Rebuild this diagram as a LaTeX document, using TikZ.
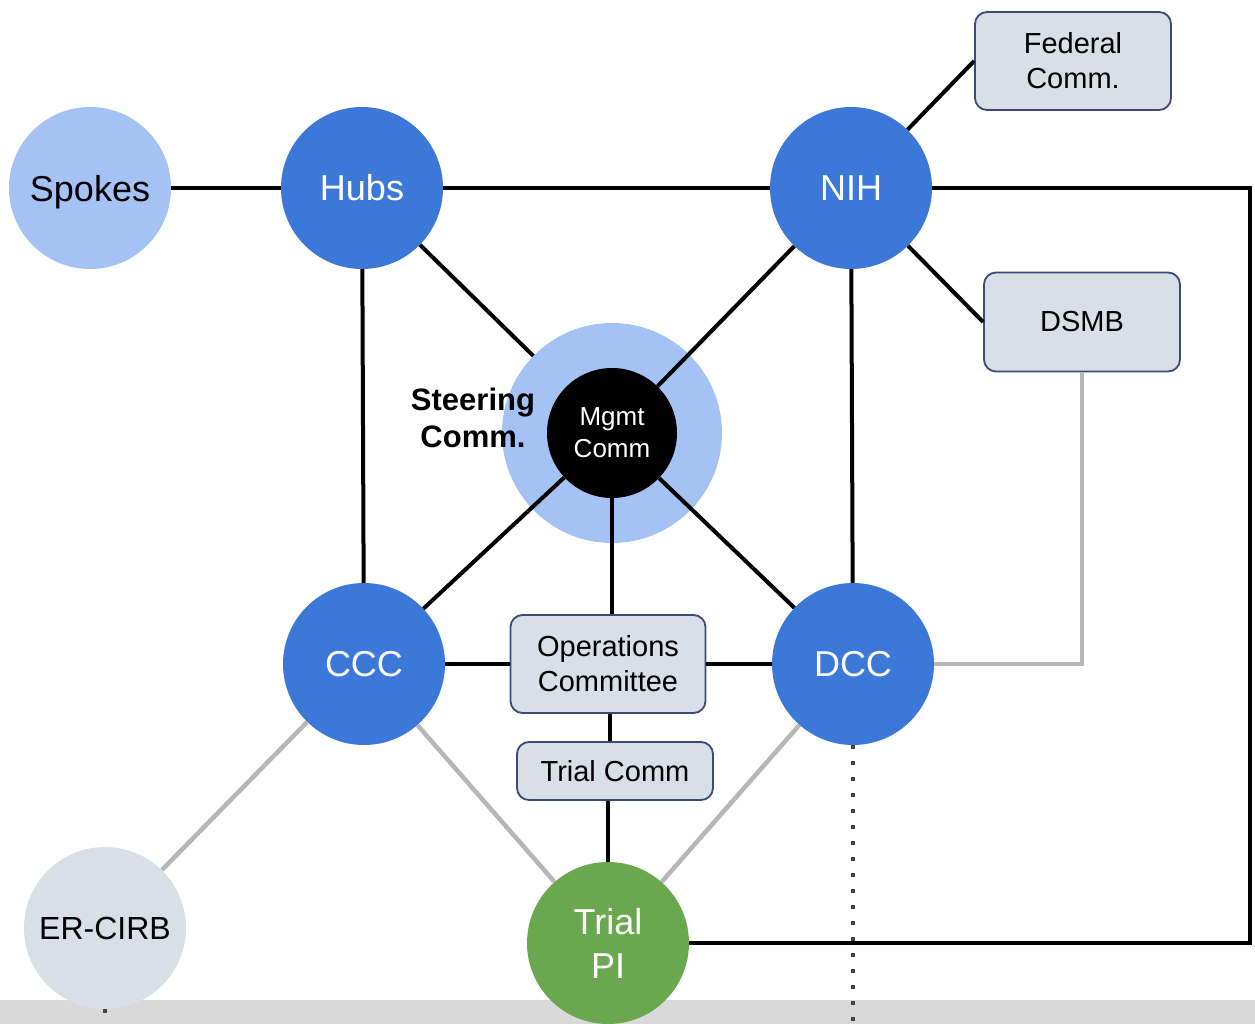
\documentclass[tikz,border=0pt]{standalone}
\usepackage{fontspec}
\setmainfont{Liberation Sans}
\usepackage{tikz}
\usetikzlibrary{positioning}

\definecolor{paleblue}{HTML}{A4C2F4}
\definecolor{midblue}{HTML}{3C78D8}
\definecolor{trialgreen}{HTML}{6AA84F}
\definecolor{boxfill}{HTML}{D9DFE6}
\definecolor{boxline}{HTML}{3D4A79}
\definecolor{softgray}{HTML}{B7B7B7}
\definecolor{bandgray}{HTML}{D9D9D9}
\definecolor{dotgray}{HTML}{434343}

\tikzset{
	party/.style={circle, minimum size=162pt, inner sep=0pt, align=center, text=white, font=\fontsize{36}{44}\selectfont},
	commbox/.style={draw=boxline, line width=1.8pt, fill=boxfill, rounded corners=12pt, align=center, font=\fontsize{29}{35}\selectfont},
	tie/.style={line width=4pt},
	softtie/.style={line width=4.5pt, color=softgray},
	dotline/.style={line width=3.5pt, color=dotgray, dash pattern=on 4pt off 12pt}
}

\begin{document}
\begin{tikzpicture}[x=1pt,y=-1pt]
		\useasboundingbox (0,0) rectangle (1255,1024);
		\fill[bandgray] (0,1000) rectangle (1255,1024);
		
		\node[party, fill=paleblue, text=black, text depth=0pt] (spokes) at (90,188) {Spokes};
		\node[party, fill=midblue] (hubs) at (362,188) {Hubs};
		\node[party, fill=midblue] (nih) at (851,188) {NIH};
		
		\node[circle, minimum size=220pt, inner sep=0pt, fill=paleblue] (steer) at (612,433) {};
		\node[circle, minimum size=130pt, inner sep=0pt, fill=black, text=white, align=center, font=\fontsize{26}{32}\selectfont] (mgmt) at (612,433) {Mgmt\\Comm};
		\node[align=center, font=\fontsize{31}{37}\selectfont\bfseries] (steerlbl) at (473,418) {Steering\\Comm.};
		
		\node[party, fill=midblue] (ccc) at (364,664) {CCC};
		\node[party, fill=midblue] (dcc) at (853,664) {DCC};
		\node[party, fill=boxfill, text=black, font=\fontsize{32}{38}\selectfont] (ercirb) at (105,928) {ER-CIRB};
		\node[party, fill=trialgreen] (trialpi) at (608,943) {Trial\\PI};
		
		\node[commbox, minimum width=196pt, minimum height=98pt] (federal) at (1073,61) {Federal\\Comm.};
		\node[commbox, minimum width=196pt, minimum height=99pt] (dsmb) at (1082,322) {DSMB};
		\node[commbox, minimum width=195pt, minimum height=98pt] (ops) at (608,664) {Operations\\Committee};
		\node[commbox, minimum width=196pt, minimum height=58pt] (trialcomm) at (615,771) {Trial Comm};
		
		\coordinate (loop) at (1250,188);
		\coordinate (floor) at (0,1024);
		
		%%%%%%%%%%%%%%%%%%%%%%%%%%%%%%
		
		\draw[tie] (spokes) -- (hubs);
		\draw[tie] (hubs) -- (nih);
		\draw[tie] (nih) -- (loop) |- (trialpi);
		\draw[tie] (nih) -- (federal.west);
		\draw[tie] (nih) -- (dsmb.west);
		
		\draw[tie] (hubs) -- (steer);
		\draw[tie] (nih) -- (mgmt);
		\draw[tie] (ccc) -- (mgmt);
		\draw[tie] (dcc) -- (mgmt);
		\draw[tie] (mgmt) -- (mgmt |- ops.north);
		
		\draw[tie] (hubs) -- (ccc);
		\draw[tie] (nih) -- (dcc);
		\draw[tie] (ccc) -- (ops);
		\draw[tie] (ops) -- (dcc);
		\draw[tie] (ops.south -| trialpi) ++(2pt,0) -- ([xshift=2pt]trialcomm.north -| trialpi);
		\draw[tie] (trialpi) -- (trialpi |- trialcomm.south);
		
		\draw[softtie] (dsmb.south) |- (dcc);
		\draw[softtie] (ccc) -- (ercirb);
		\draw[softtie] (ccc) -- (trialpi);
		\draw[softtie] (dcc) -- (trialpi);
		
		\draw[dotline] (dcc.south) -- (dcc.south |- floor);
		\draw[dotline] (ercirb.south) -- (ercirb.south |- floor);
		
	\end{tikzpicture}
\end{document}
